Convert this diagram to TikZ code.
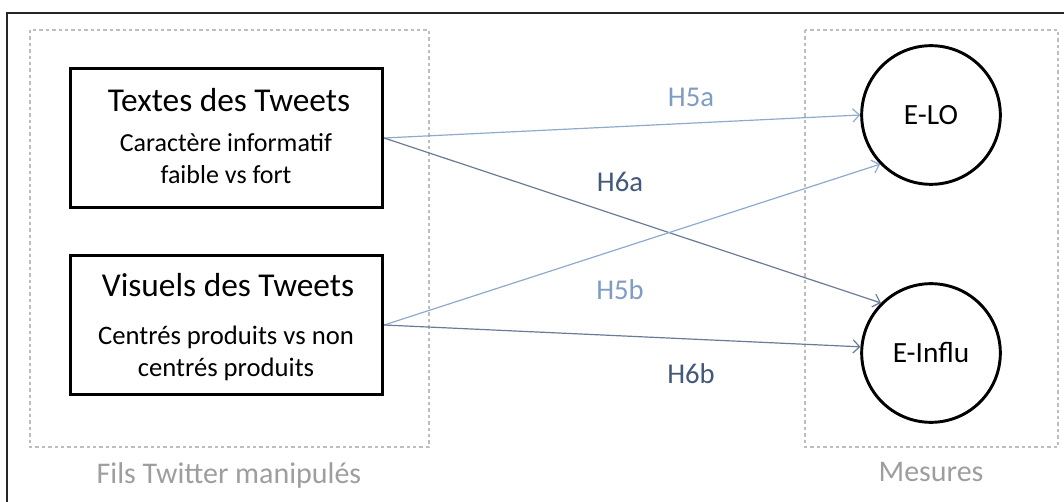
\documentclass[tikz,border=0pt]{standalone}
\usepackage{fontspec}
\setmainfont{Carlito}
\usetikzlibrary{%
	calc,%
	arrows.meta
}
\definecolor{hfive}{HTML}{8FAACD}
\definecolor{hfivetxt}{HTML}{7F9CC3}
\definecolor{hsix}{HTML}{6A7B98}
\definecolor{hsixtxt}{HTML}{44587A}
\definecolor{grpgray}{HTML}{BDBDBD}
\tikzstyle{groupbox}=[draw=grpgray, line width=1.7pt, dash pattern=on 2.6pt off 2.2pt]
\tikzstyle{factor}=[draw, line width=2.4pt, rectangle, minimum width=234pt, minimum height=104pt, inner sep=0pt]
\tikzstyle{measure}=[draw, line width=2.2pt, circle, minimum size=104pt, inner sep=0pt, font=\fontsize{22}{26}\selectfont]
\tikzstyle{hyp}=[-{Straight Barb[length=5pt,width=10pt]}, line width=0.9pt]
\tikzstyle{hlabel}=[anchor=base, inner sep=0pt, font=\fontsize{21.5}{25}\selectfont]
\tikzstyle{grplabel}=[anchor=base, inner sep=0pt, text=black!38, font=\fontsize{22.5}{26}\selectfont]

\begin{document}
\begin{tikzpicture}[x=0.75pt, y=-0.75pt, line join=miter]
				\useasboundingbox (0,0) rectangle (1064,502);
				
				% Outer frame (only left and top edges are visible)
				\coordinate (f0) at (7,502);
				\coordinate (f1) at (7,13);
				\coordinate (f2) at (1064,13);
				\draw[line width=1.5pt, black!85] (f0) -- (f1) -- (f2);
				
				% Dotted groups
				\draw[groupbox] (30,30) rectangle (429,447);
				\draw[groupbox] (805,30) rectangle (1058,447);
				\node[grplabel] (grpfils) at (229,483) {Fils Twitter manipulés};
				\node[grplabel] (grpmes) at (931,481) {Mesures};
				
				% Manipulated factors (base = last line)
				\node[factor] (textes) at (226.5,138) {};
				\node[factor] (visuels) at (226.5,325) {};
				\node[anchor=base, inner sep=0pt, font=\fontsize{25}{29}\selectfont] (textestitle) at (229,112) {Textes des Tweets};
				\node[anchor=base, inner sep=0pt, align=center, font=\fontsize{19.5}{24}\selectfont] (textesbody) at (226,184) {Caractère informatif\\faible vs fort};
				\node[anchor=base, inner sep=0pt, font=\fontsize{25}{29}\selectfont] (visuelstitle) at (228,297) {Visuels des Tweets};
				\node[anchor=base, inner sep=0pt, align=center, font=\fontsize{20}{23.5}\selectfont] (visuelsbody) at (226,376) {Centrés produits vs non\\centrés produits};
				
				% Measures
				\node[measure] (elo) at (931,115) {E-LO};
				\node[measure] (einflu) at (931,353) {E-Influ};
				
				% Hypotheses
				\draw[hyp, hfive] (textes.east) -- (elo.180);
				\draw[hyp, hsix] (textes.east) -- (einflu.135);
				\draw[hyp, hfive] (visuels.east) -- (elo.224);
				\draw[hyp, hsix] (visuels.east) -- (einflu.175);
				
				\node[hlabel, text=hfivetxt] (h5a) at (691,107) {H5a};
				\node[hlabel, text=hsixtxt] (h6a) at (620,192) {H6a};
				\node[hlabel, text=hfivetxt] (h5b) at (620,300) {H5b};
				\node[hlabel, text=hsixtxt] (h6b) at (691,383) {H6b};
			\end{tikzpicture}
\end{document}
